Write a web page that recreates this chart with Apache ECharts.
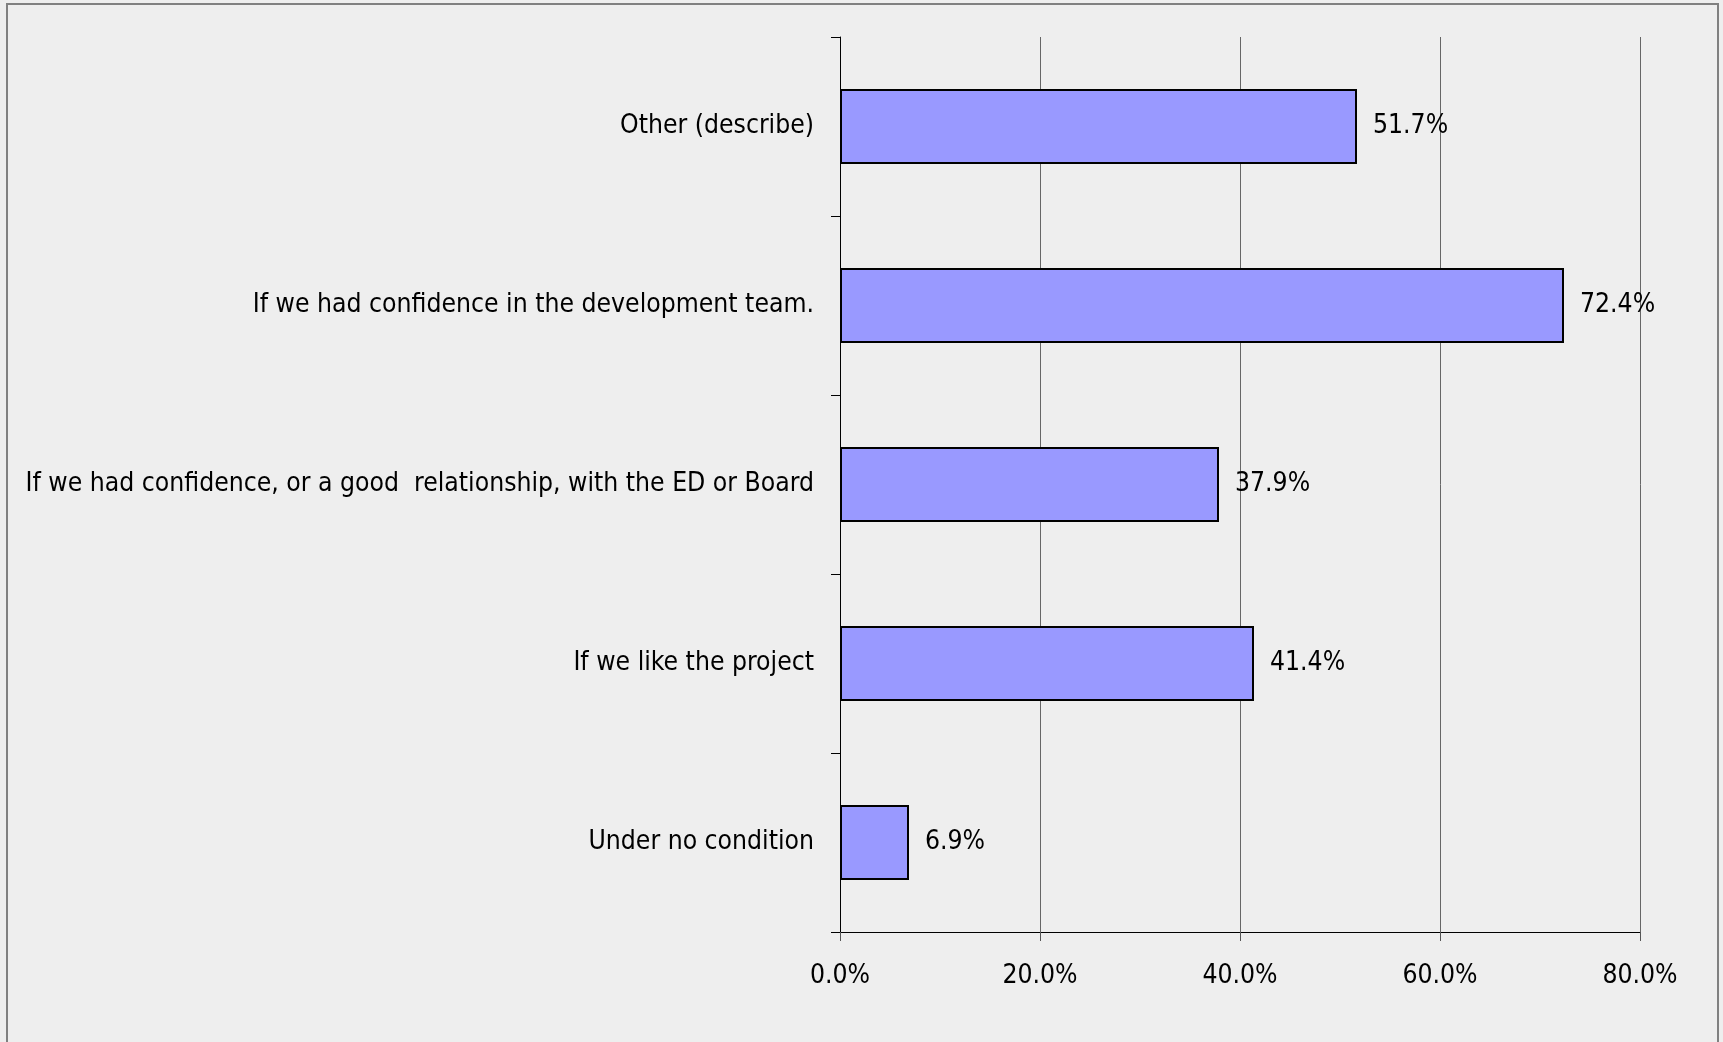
<!DOCTYPE html>
<html>
<head>
<meta charset="utf-8">
<script src="https://cdn.jsdelivr.net/npm/echarts@6/dist/echarts.min.js"></script>
<style>
  html, body { margin: 0; padding: 0; background: #eeeeee; }
  #main { width: 1723px; height: 1042px; }
</style>
</head>
<body>
<div id="main"></div>
<script>
// categories, bottom to top (ECharts draws the first one at the bottom)
var categories = [
  "Under no condition",
  "If we like the project",
  "If we had confidence, or a good  relationship, with the ED or Board",
  "If we had confidence in the development team.",
  "Other (describe)"
];
var values = [6.9, 41.4, 37.9, 72.4, 51.7];
var xTicks = [0, 20, 40, 60, 80];

var font = '"DejaVu Sans Condensed", "DejaVu Sans", sans-serif';

var myChart = echarts.init(document.getElementById('main'));
var option = {
  backgroundColor: '#eeeeee',
  animation: false,
  // outer frame
  graphic: [{
    type: 'rect',
    shape: { x: 7, y: 4, width: 1711, height: 1100 },
    style: { fill: 'none', stroke: '#808080', lineWidth: 2 }
  }],
  grid: { left: 840, right: 83, top: 37, bottom: 110, containLabel: false },
  xAxis: {
    type: 'value',
    min: xTicks[0],
    max: xTicks[xTicks.length - 1],
    interval: 20,
    axisLine: { show: true, lineStyle: { color: '#000', width: 1 } },
    axisTick: { show: true, length: 9, lineStyle: { color: '#555' } },
    splitLine: { show: true, lineStyle: { color: '#666', width: 1 } },
    axisLabel: {
      margin: 31,
      fontFamily: font,
      fontSize: 26.3,
      color: '#000',
      formatter: function (v) { return v.toFixed(1) + '%'; }
    }
  },
  yAxis: {
    type: 'category',
    data: categories,
    axisLine: { show: true, lineStyle: { color: '#000', width: 1 } },
    axisTick: { show: true, length: 9, inside: false, lineStyle: { color: '#000' } },
    axisLabel: {
      margin: 26,
      fontFamily: font,
      fontSize: 26.3,
      color: '#000',
      padding: [12, 0, 0, 0]
    }
  },
  series: [{
    type: 'bar',
    data: values,
    barCategoryGap: '58%',
    itemStyle: { color: '#9999ff', borderColor: '#000', borderWidth: 2 },
    label: {
      show: true,
      position: 'right',
      distance: 16,
      fontFamily: font,
      fontSize: 26.3,
      color: '#000',
      padding: [12, 0, 0, 0],
      formatter: function (p) { return p.value.toFixed(1) + '%'; }
    }
  }]
};
myChart.setOption(option);
</script>
</body>
</html>
